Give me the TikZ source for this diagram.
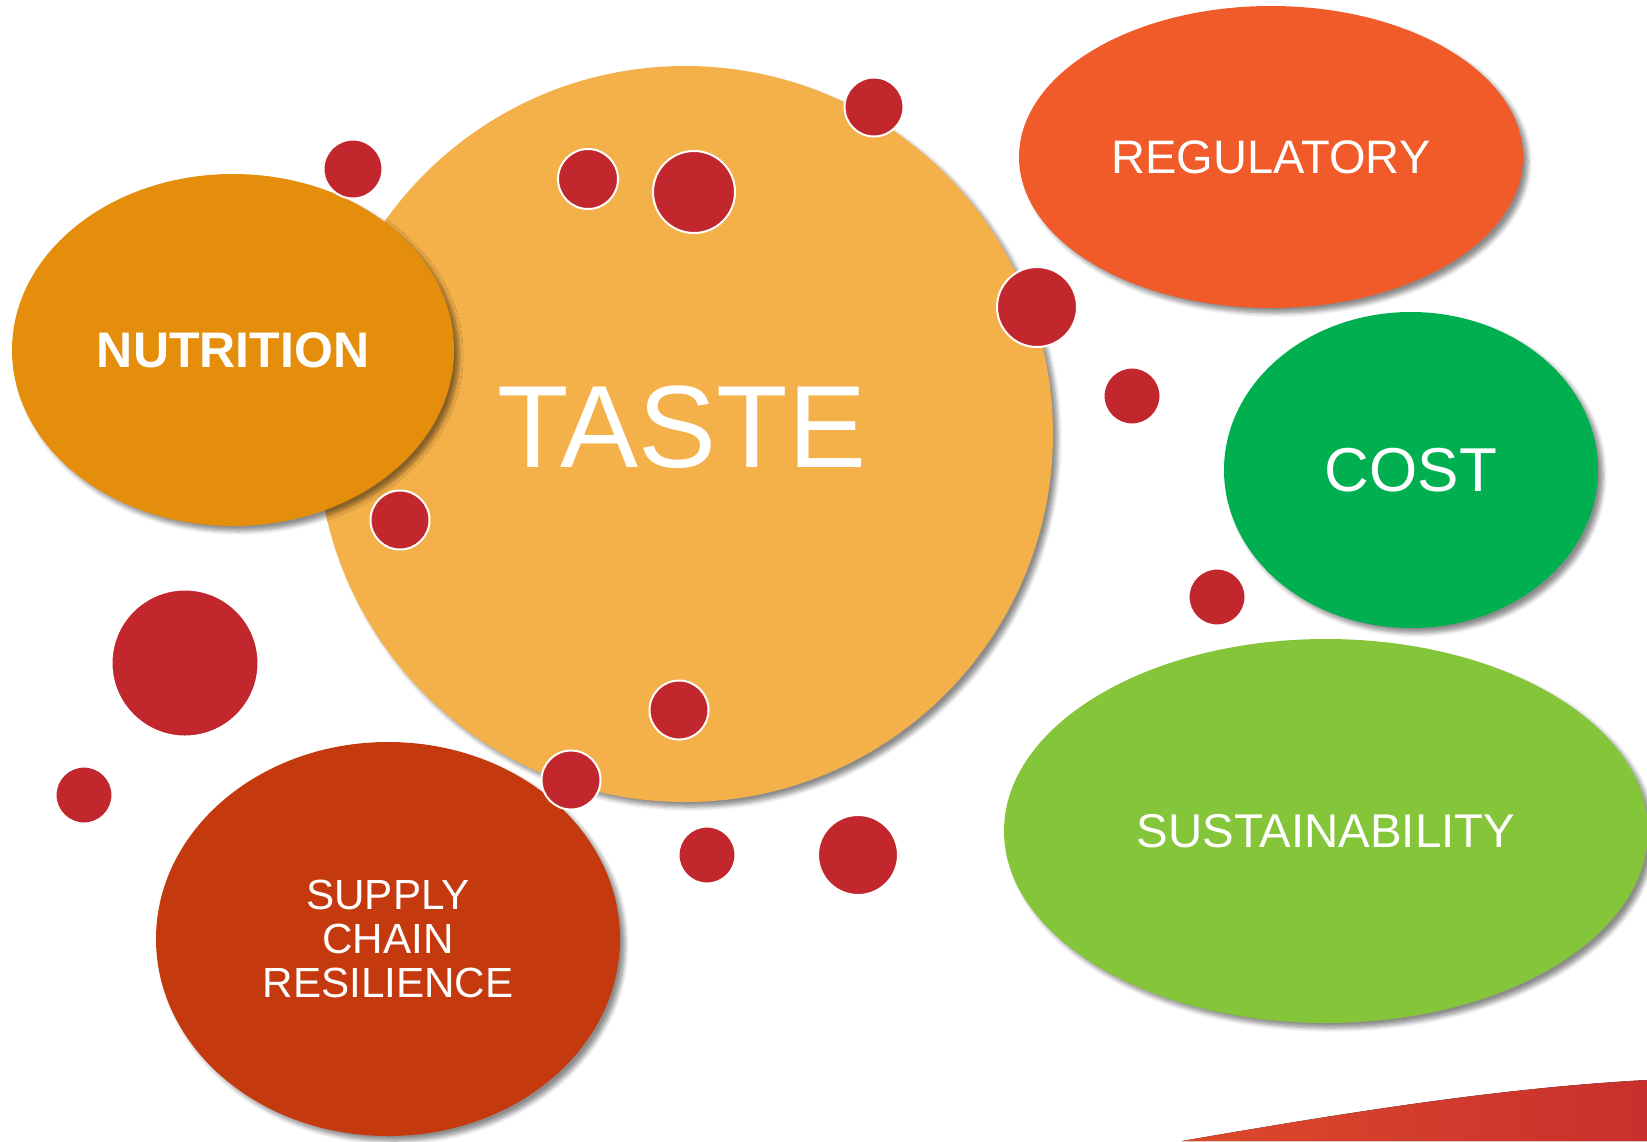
\documentclass[tikz,border=0pt]{standalone}
\usepackage{fontspec}
\setmainfont{Liberation Sans}
\usetikzlibrary{shapes.geometric,shadows.blur}

\definecolor{tastecol}{HTML}{F4B049}
\definecolor{nutricol}{HTML}{E48E0C}
\definecolor{regucol}{HTML}{F15A29}
\definecolor{costcol}{HTML}{00AF50}
\definecolor{sustcol}{HTML}{84C53A}
\definecolor{supplycol}{HTML}{C4390D}
\definecolor{dotcol}{HTML}{C1272D}
\definecolor{swooshA}{HTML}{DC4A2B}
\definecolor{swooshB}{HTML}{C92F2C}

\tikzset{
  blob/.style={ellipse, inner sep=0pt, outer sep=0pt, text=white, align=center,
    blur shadow={shadow xshift=2.5pt, shadow yshift=-2.5pt, shadow blur steps=6, shadow opacity=45}},
  dot/.style={circle, fill=dotcol, draw=white, line width=1pt, inner sep=0pt, minimum size=#1}
}

\begin{document}
\begin{tikzpicture}[x=0.5pt, y=-0.5pt]
	\useasboundingbox (0,0) rectangle (1647,1141);
	% big circles and ellipses
	\node[blob, circle, fill=tastecol, minimum size=368pt] (taste) at (685,434) {};
	\node[font=\fontsize{58.5}{61}\selectfont, text=white] (tastetxt) at (682,427) {TASTE};
	\node[blob, fill=nutricol, minimum width=221pt, minimum height=176pt, font=\bfseries\fontsize{25}{28}\selectfont] (nutrition) at (233,350) {NUTRITION};
	\node[blob, fill=regucol, minimum width=252pt, minimum height=151pt, font=\fontsize{23.5}{26}\selectfont] (regulatory) at (1271,157) {REGULATORY};
	\node[blob, fill=costcol, minimum width=187pt, minimum height=158pt, font=\fontsize{31}{34}\selectfont] (cost) at (1411,470) {COST};
	\node[blob, fill=sustcol, minimum width=322pt, minimum height=192pt, font=\fontsize{23.7}{26}\selectfont] (sustain) at (1326,831) {SUSTAINABILITY};
	\node[blob, fill=supplycol, minimum width=232pt, minimum height=197pt, font=\fontsize{21.1}{21.8}\selectfont] (supply) at (388,939) {SUPPLY\\CHAIN\\RESILIENCE};
	% red dots
	\node[dot=29.5pt] (d1) at (353,169) {};
	\node[dot=30pt] (d2) at (588,179) {};
	\node[dot=41pt] (d3) at (694,192) {};
	\node[dot=29.5pt] (d4) at (874,107) {};
	\node[dot=40pt] (d5) at (1037,307) {};
	\node[dot=28.5pt] (d6) at (1132,396) {};
	\node[dot=28.5pt] (d7) at (1217,597) {};
	\node[dot=29.5pt] (d8) at (400,520) {};
	\node[dot=73.5pt] (d9) at (185,663) {};
	\node[dot=28.5pt] (d10) at (84,795) {};
	\node[dot=29.5pt] (d11) at (679,710) {};
	\node[dot=29.5pt] (d12) at (571,780) {};
	\node[dot=28.5pt] (d13) at (707,855) {};
	\node[dot=40pt] (d14) at (858,855) {};
	% swoosh in the corner
	\fill[left color=swooshA, right color=swooshB] (1182,1141) .. controls (1350,1112) and (1500,1088) .. (1647,1080) -- (1647,1141) -- cycle;
\end{tikzpicture}
\end{document}
